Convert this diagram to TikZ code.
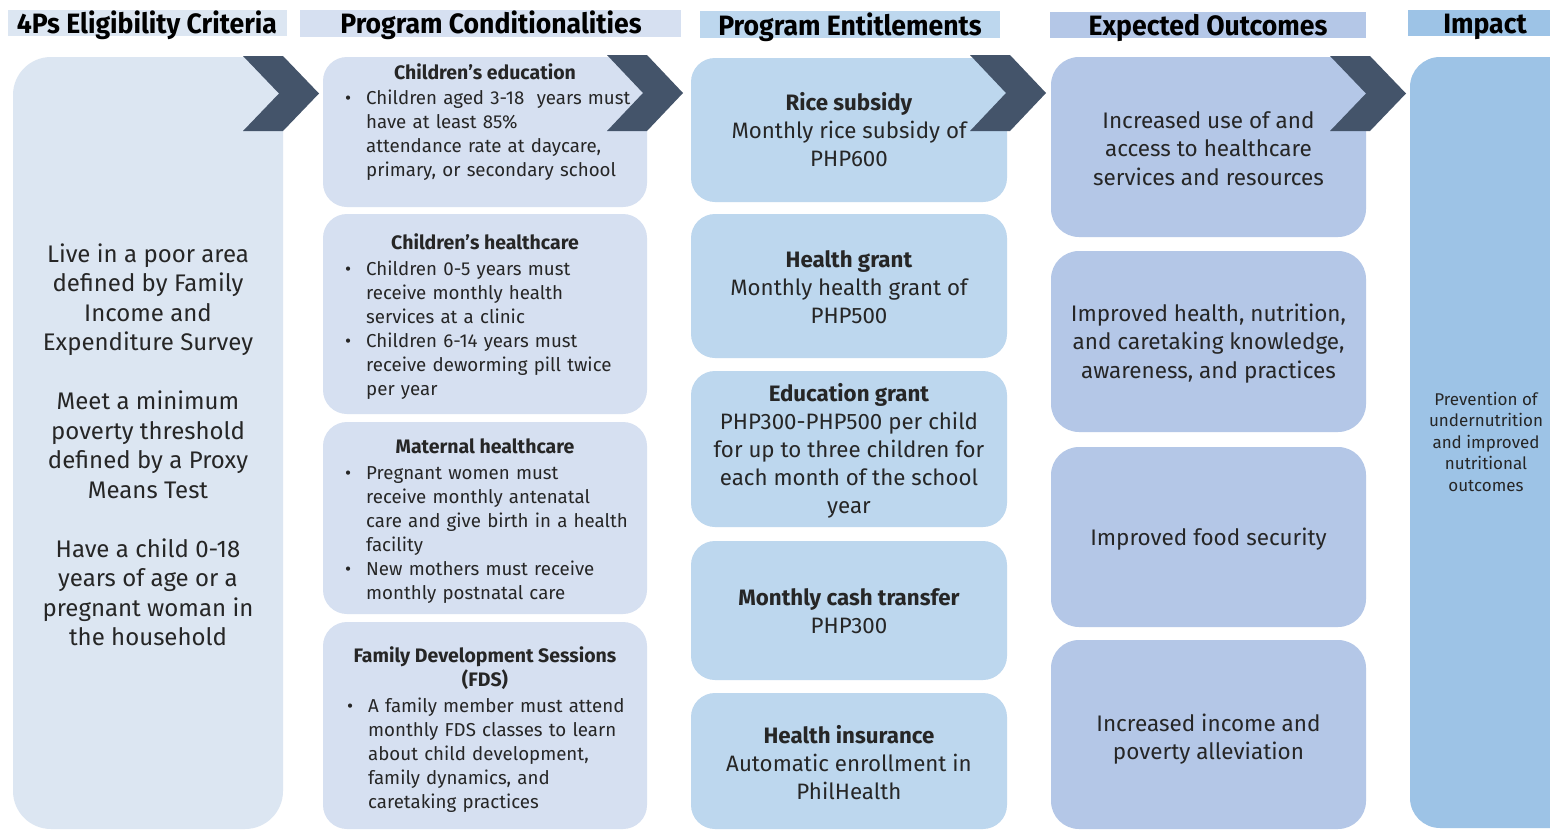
\documentclass[tikz,border=0pt]{standalone}
\usepackage{fontspec}
\setmainfont{Fira Sans}
\newfontfamily\headfont{Fira Sans}[FakeStretch=0.95]

\definecolor{colA}{HTML}{DCE6F2}
\definecolor{colB}{HTML}{D6E0F1}
\definecolor{colC}{HTML}{BDD7EE}
\definecolor{colD}{HTML}{B4C7E7}
\definecolor{colE}{HTML}{9DC3E6}
\definecolor{chev}{HTML}{44546A}
\definecolor{ink}{HTML}{262626}

% bullet paragraph with hanging indent
\newcommand{\bitem}[1]{\par\hangindent=21pt\hangafter=1\noindent\strut\makebox[21pt][l]{\textbullet}#1\par}

\tikzset{
  panel/.style={inner sep=0pt, draw=none},
  bar/.style={inner sep=0pt, draw=none},
  chevshape/.style={fill=chev, draw=none},
  head/.style={anchor=base, inner sep=0pt, text=black,
    font=\headfont\bfseries\fontsize{28}{30}\selectfont},
  crit/.style={anchor=north, inner sep=0pt, text=ink, align=center,
    font=\fontsize{24}{29.5}\selectfont},
  condtitle/.style={inner sep=0pt, text=ink, align=center,
    font=\bfseries\fontsize{19.5}{24}\selectfont},
  condlist/.style={anchor=north west, inner sep=0pt, text=ink, text width=300pt,
    align=left, font=\fontsize{18.7}{24}\selectfont},
  entl/.style={anchor=north, inner sep=0pt, text=ink, align=center,
    font=\fontsize{22.3}{28}\selectfont},
  outc/.style={anchor=north, inner sep=0pt, text=ink, align=center,
    font=\fontsize{22.5}{28.5}\selectfont},
  impt/.style={anchor=north, inner sep=0pt, text=ink, align=center,
    font=\fontsize{17}{21.5}\selectfont},
}

\begin{document}
\begin{tikzpicture}[x=1pt,y=-1pt]
\clip (0,0) rectangle (1550,830);
\fill[white] (0,0) rectangle (1550,830);

% column header bars
\node[bar, fill=colA, minimum width=279pt, minimum height=26pt] (hb1) at (147.5,23) {};
\node[bar, fill=colB, minimum width=381pt, minimum height=27pt] (hb2) at (490.5,23.5) {};
\node[bar, fill=colC, minimum width=300pt, minimum height=27pt] (hb3) at (850,24.5) {};
\node[bar, fill=colD, minimum width=316pt, minimum height=26pt] (hb4) at (1208,25) {};
\node[bar, fill=colE, minimum width=150pt, minimum height=26pt] (hb5) at (1483,23) {};

\node[head] (h1) at (147,33) {4Ps Eligibility Criteria};
\node[head] (h2) at (491,33) {Program Conditionalities};
\node[head] (h3) at (850,35) {Program Entitlements};
\node[head] (h4) at (1208,35) {Expected Outcomes};
\node[head] (h5) at (1485,33) {Impact};

% eligibility column
\node[panel, fill=colA, rounded corners=38pt, minimum width=270pt, minimum height=772pt] (p1) at (148,443) {};

% conditionalities column
\node[panel, fill=colB, rounded corners=24pt, minimum width=324pt, minimum height=150pt] (p2a) at (485,132) {};
\node[panel, fill=colB, rounded corners=24pt, minimum width=324pt, minimum height=200pt] (p2b) at (485,314) {};
\node[panel, fill=colB, rounded corners=24pt, minimum width=324pt, minimum height=192pt] (p2c) at (485,518) {};
\node[panel, fill=colB, rounded corners=24pt, minimum width=324pt, minimum height=207pt] (p2d) at (485,725.5) {};

% entitlements column
\node[panel, fill=colC, rounded corners=24pt, minimum width=316pt, minimum height=144pt] (p3a) at (849,130) {};
\node[panel, fill=colC, rounded corners=24pt, minimum width=316pt, minimum height=144pt] (p3b) at (849,286) {};
\node[panel, fill=colC, rounded corners=24pt, minimum width=316pt, minimum height=156pt] (p3c) at (849,449) {};
\node[panel, fill=colC, rounded corners=24pt, minimum width=316pt, minimum height=139pt] (p3d) at (849,610.5) {};
\node[panel, fill=colC, rounded corners=24pt, minimum width=316pt, minimum height=136pt] (p3e) at (849,761) {};

% outcomes column
\node[panel, fill=colD, rounded corners=28pt, minimum width=315pt, minimum height=180pt] (p4a) at (1208.5,147) {};
\node[panel, fill=colD, rounded corners=28pt, minimum width=315pt, minimum height=181pt] (p4b) at (1208.5,341.5) {};
\node[panel, fill=colD, rounded corners=28pt, minimum width=315pt, minimum height=180pt] (p4c) at (1208.5,537) {};
\node[panel, fill=colD, rounded corners=28pt, minimum width=315pt, minimum height=189pt] (p4d) at (1208.5,734.5) {};

% impact column
\node[panel, fill=colE, rounded corners=30pt, minimum width=180pt, minimum height=771pt] (p5) at (1500,442.5) {};

% chevrons between columns
\fill[chevshape] (243,56) -- (283,56) -- (319,93.5) -- (283,131) -- (243,131) -- (279,93.5) -- cycle;
\fill[chevshape] (607,55) -- (647,55) -- (683,93) -- (647,131) -- (607,131) -- (643,93) -- cycle;
\fill[chevshape] (970,55) -- (1010,55) -- (1046,93) -- (1010,131) -- (970,131) -- (1006,93) -- cycle;
\fill[chevshape] (1330,56) -- (1370,56) -- (1406,93.5) -- (1370,131) -- (1330,131) -- (1366,93.5) -- cycle;

% eligibility criteria
\node[crit] (t1) at (148,241.4) {\strut Live in a poor area\\defined by Family\\Income and\\Expenditure Survey\\[29.5pt]
Meet a minimum\\poverty threshold\\defined by a Proxy\\Means Test\\[29.5pt]
Have a child 0-18\\years of age or a\\pregnant woman in\\the household};

% conditionalities
\node[condtitle, anchor=base] (t2at) at (485,79) {Children’s education};
\node[condlist] (t2a) at (345,80.2) {%
\bitem{Children aged 3-18~ years must\newline have at least 85\%\newline attendance rate at daycare,\newline primary, or secondary school}};

\node[condtitle, anchor=base] (t2bt) at (485,249) {Children’s healthcare};
\node[condlist] (t2b) at (345,251.2) {%
\bitem{Children 0-5 years must\newline receive monthly health\newline services at a clinic}
\bitem{Children 6-14 years must\newline receive deworming pill twice\newline per year}};

\node[condtitle, anchor=base] (t2ct) at (485,453) {Maternal healthcare};
\node[condlist] (t2c) at (345,455.2) {%
\bitem{Pregnant women must\newline receive monthly antenatal\newline care and give birth in a health\newline facility}
\bitem{New mothers must receive\newline monthly postnatal care}};

\node[condtitle, anchor=north] (t2dt) at (485,645.2) {\strut Family Development Sessions\\(FDS)};
\node[condlist] (t2d) at (347,688.2) {%
\bitem{A family member must attend\newline monthly FDS classes to learn\newline about child development,\newline family dynamics, and\newline caretaking practices}};

% entitlements
\node[entl] (t3a) at (849,90.4) {\strut\textbf{Rice subsidy}\\Monthly rice subsidy of\\PHP600};
\node[entl] (t3b) at (849,247.4) {\strut\textbf{Health grant}\\Monthly health grant of\\PHP500};
\node[entl] (t3c) at (849,381.4) {\strut\textbf{Education grant}\\PHP300-PHP500 per child\\for up to three children for\\each month of the school\\year};
\node[entl] (t3d) at (849,585.4) {\strut\textbf{Monthly cash transfer}\\PHP300};
\node[entl] (t3e) at (849,723.4) {\strut\textbf{Health insurance}\\Automatic enrollment in\\PhilHealth};

% expected outcomes
\node[outc] (t4a) at (1208.5,108) {\strut Increased use of and\\access to healthcare\\services and resources};
\node[outc] (t4b) at (1208.5,301) {\strut Improved health, nutrition,\\and caretaking knowledge,\\awareness, and practices};
\node[outc] (t4c) at (1208.5,525) {\strut Improved food security};
\node[outc] (t4d) at (1208.5,711) {\strut Increased income and\\poverty alleviation};

% impact
\node[impt] (t5) at (1486,390) {\strut Prevention of\\undernutrition\\and improved\\nutritional\\outcomes};
\end{tikzpicture}
\end{document}
